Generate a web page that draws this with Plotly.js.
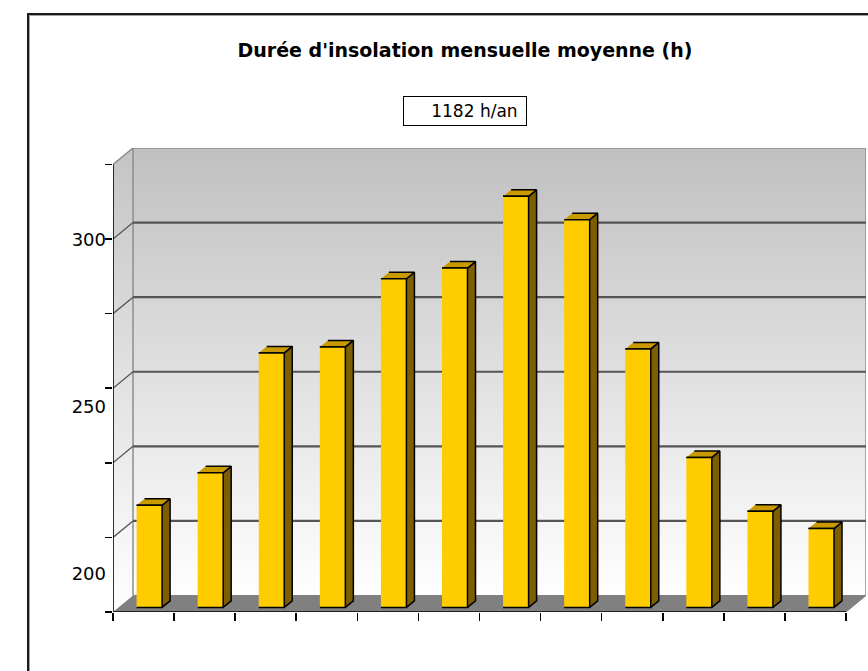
<!DOCTYPE html>
<html>
<head>
<meta charset="utf-8">
<script src="https://cdn.plot.ly/plotly-3.0.1.min.js"></script>
<style>
html,body{margin:0;padding:0;background:#fff;overflow:hidden;width:868px;height:671px}
#chart{position:absolute;left:0;top:0;width:868px;height:671px}
#frame{position:absolute;left:27px;top:13px;width:900px;height:700px;border-left:2px solid #1a1a1a;border-top:2px solid #1a1a1a;box-shadow:inset 1px 1px 0 #a0a0a0;pointer-events:none}
</style>
</head>
<body>
<div id="chart"></div>
<div id="frame"></div>
<script>
// ---------- data ----------
const months = ['Janvier','Février','Mars','Avril','Mai','Juin','Juillet','Août','Septembre','Octobre','Novembre','Décembre'];
const sunshine = [219.1, 228.8, 264.7, 266.5, 286.9, 290.1, 311.6, 304.6, 265.9, 233.4, 217.3, 212.1];
const yTickLabels = [200, 250, 300];
const titleText = "Durée d'insolation mensuelle moyenne (h)";
const annualText = '1182 h/an';

// ---------- axis / 3D geometry settings ----------
const yMin = 188.5, yMax = 322.5, nGrid = 6;
const W = 868, H = 671;
const M = {l: 113, r: 2, t: 148, b: 59};
const plotW = W - M.l - M.r, plotH = H - M.t - M.b;
const wallDepthPx = {x: 20, y: 16.5};
const nCat = months.length;
const pxPerCat = (plotW - wallDepthPx.x) / nCat;
const pxPerY = (plotH - wallDepthPx.y) / (yMax - yMin);
const dxU = wallDepthPx.x / pxPerCat;
const dyU = wallDepthPx.y / pxPerY;
const barHalfW = 12.75 / pxPerCat;
const barDepth = {x: 8 / pxPerCat, y: 6.5 / pxPerY};
const barShift = {x: 5.8 / pxPerCat, y: 4.6 / pxPerY};
const xL = -0.5, xR = nCat - 0.5;
const gridVals = Array.from({length: nGrid + 1}, (_, k) => yMin + k * (yMax - yMin) / nGrid);

function polyXY(polys) {
  const x = [], y = [];
  polys.forEach((p, i) => {
    if (i > 0) { x.push(null); y.push(null); }
    p.forEach(pt => { x.push(pt[0]); y.push(pt[1]); });
  });
  return {x, y};
}
function segXY(segs) {
  const x = [], y = [];
  segs.forEach((s, i) => {
    if (i > 0) { x.push(null); y.push(null); }
    x.push(s[0][0], s[1][0]); y.push(s[0][1], s[1][1]);
  });
  return {x, y};
}
const base = {type: 'scatter', hoverinfo: 'skip', showlegend: false, cliponaxis: false};

const traces = [];
// back wall
const bw = polyXY([[[xL + dxU, yMin + dyU], [xR + dxU, yMin + dyU], [xR + dxU, yMax + dyU], [xL + dxU, yMax + dyU]]]);
traces.push(Object.assign({}, base, {x: bw.x, y: bw.y, mode: 'lines', fill: 'toself',
  line: {width: 0, color: 'rgba(0,0,0,0)'},
  fillgradient: {type: 'vertical', colorscale: [[0, '#ffffff'], [1, '#c0c0c0']]}}));
// left wall
const lw = polyXY([[[xL, yMin], [xL + dxU, yMin + dyU], [xL + dxU, yMax + dyU], [xL, yMax]]]);
traces.push(Object.assign({}, base, {x: lw.x, y: lw.y, mode: 'lines', fill: 'toself',
  line: {width: 0, color: 'rgba(0,0,0,0)'},
  fillgradient: {type: 'vertical', colorscale: [[0, '#ffffff'], [1, '#c4c4c4']]}}));
// wall edges
const edges = segXY([
  [[xL + dxU, yMin + dyU], [xL + dxU, yMax + dyU]],
  [[xR + dxU, yMin + dyU], [xR + dxU, yMax + dyU]],
  [[xL + dxU, yMax + dyU], [xR + dxU, yMax + dyU]],
  [[xL, yMax], [xL + dxU, yMax + dyU]]
]);
traces.push(Object.assign({}, base, {x: edges.x, y: edges.y, mode: 'lines', line: {color: '#8c8c8c', width: 1.5}}));
// gridlines on back wall + diagonals on left wall
const gl = segXY(gridVals.slice(1, nGrid).map(v => [[xL + dxU, v + dyU], [xR + dxU, v + dyU]]));
traces.push(Object.assign({}, base, {x: gl.x, y: gl.y, mode: 'lines', line: {color: '#555555', width: 2.2}}));
const dg = segXY(gridVals.slice(1, nGrid).map(v => [[xL, v], [xL + dxU, v + dyU]]));
traces.push(Object.assign({}, base, {x: dg.x, y: dg.y, mode: 'lines', line: {color: '#555555', width: 1.3}}));
// floor
const fl = polyXY([[[xL, yMin], [xR, yMin], [xR + dxU, yMin + dyU], [xL + dxU, yMin + dyU]]]);
traces.push(Object.assign({}, base, {x: fl.x, y: fl.y, mode: 'lines', fill: 'toself', fillcolor: '#808080',
  line: {width: 1, color: '#808080'}}));
// front axis lines
const ax = segXY([[[xL, yMin], [xL, yMax]], [[xL, yMin], [xR, yMin]]]);
traces.push(Object.assign({}, base, {x: ax.x, y: ax.y, mode: 'lines', line: {color: '#000', width: 1.6}}));

// bars
const sides = [], tops = [], fronts = [];
sunshine.forEach((v, i) => {
  const c = i + barShift.x;
  const b0 = yMin + barShift.y, t0 = v + barShift.y;
  const x0 = c - barHalfW, x1 = c + barHalfW;
  fronts.push([[x0, b0], [x1, b0], [x1, t0], [x0, t0]]);
  sides.push([[x1, b0], [x1 + barDepth.x, b0 + barDepth.y], [x1 + barDepth.x, t0 + barDepth.y], [x1, t0]]);
  tops.push([[x0, t0], [x1, t0], [x1 + barDepth.x, t0 + barDepth.y], [x0 + barDepth.x, t0 + barDepth.y]]);
});
[[sides, '#7d5e00'], [tops, '#c99a00'], [fronts, '#ffcc00']].forEach(([p, col]) => {
  const d = polyXY(p);
  traces.push(Object.assign({}, base, {x: d.x, y: d.y, mode: 'lines', fill: 'toself', fillcolor: col,
    line: {color: '#000', width: 1.5}}));
});
// anchor trace for label axis
traces.push(Object.assign({}, base, {x: [xL], y: [yMin], yaxis: 'y2', mode: 'markers', marker: {opacity: 0}}));

const font = {family: 'DejaVu Sans, Verdana, sans-serif', color: '#000'};
const layout = {
  width: W, height: H,
  margin: M,
  paper_bgcolor: 'rgba(0,0,0,0)', plot_bgcolor: 'rgba(0,0,0,0)',
  showlegend: false,
  title: {text: titleText, font: Object.assign({}, font, {size: 19, weight: 'bold'}),
    x: 465 / W, xref: 'container', xanchor: 'center', y: 1 - 50 / H, yref: 'container', yanchor: 'middle'},
  xaxis: {range: [xL, xR + dxU], showgrid: false, zeroline: false, showline: false,
    tickmode: 'array', tickvals: Array.from({length: nCat + 1}, (_, k) => xL + k), ticks: 'outside',
    ticklen: 8, tickwidth: 1.6, tickcolor: '#000', showticklabels: false, fixedrange: true},
  yaxis: {range: [yMin, yMax + dyU], showgrid: false, zeroline: false, showline: false,
    tickmode: 'array', tickvals: gridVals, ticks: 'outside', ticklen: 7, tickwidth: 1.6, tickcolor: '#000',
    showticklabels: false, fixedrange: true},
  yaxis2: {range: [yMin, yMax + dyU], overlaying: 'y', side: 'left', showgrid: false, zeroline: false,
    showline: false, tickmode: 'array', tickvals: yTickLabels, ticks: '', ticklabelstandoff: 6,
    tickfont: Object.assign({}, font, {size: 18}), fixedrange: true},
  annotations: [{text: annualText + '&nbsp;', xref: 'paper', yref: 'paper',
    x: (464.5 - M.l) / plotW, y: (H - M.b - 111) / plotH, xanchor: 'center', yanchor: 'middle',
    showarrow: false, align: 'right', width: 116, height: 22, borderpad: 3,
    bordercolor: '#000', borderwidth: 1, bgcolor: '#fff', font: Object.assign({}, font, {size: 17})}]
};
Plotly.newPlot('chart', traces, layout, {staticPlot: true, displayModeBar: false});
</script>
</body>
</html>
